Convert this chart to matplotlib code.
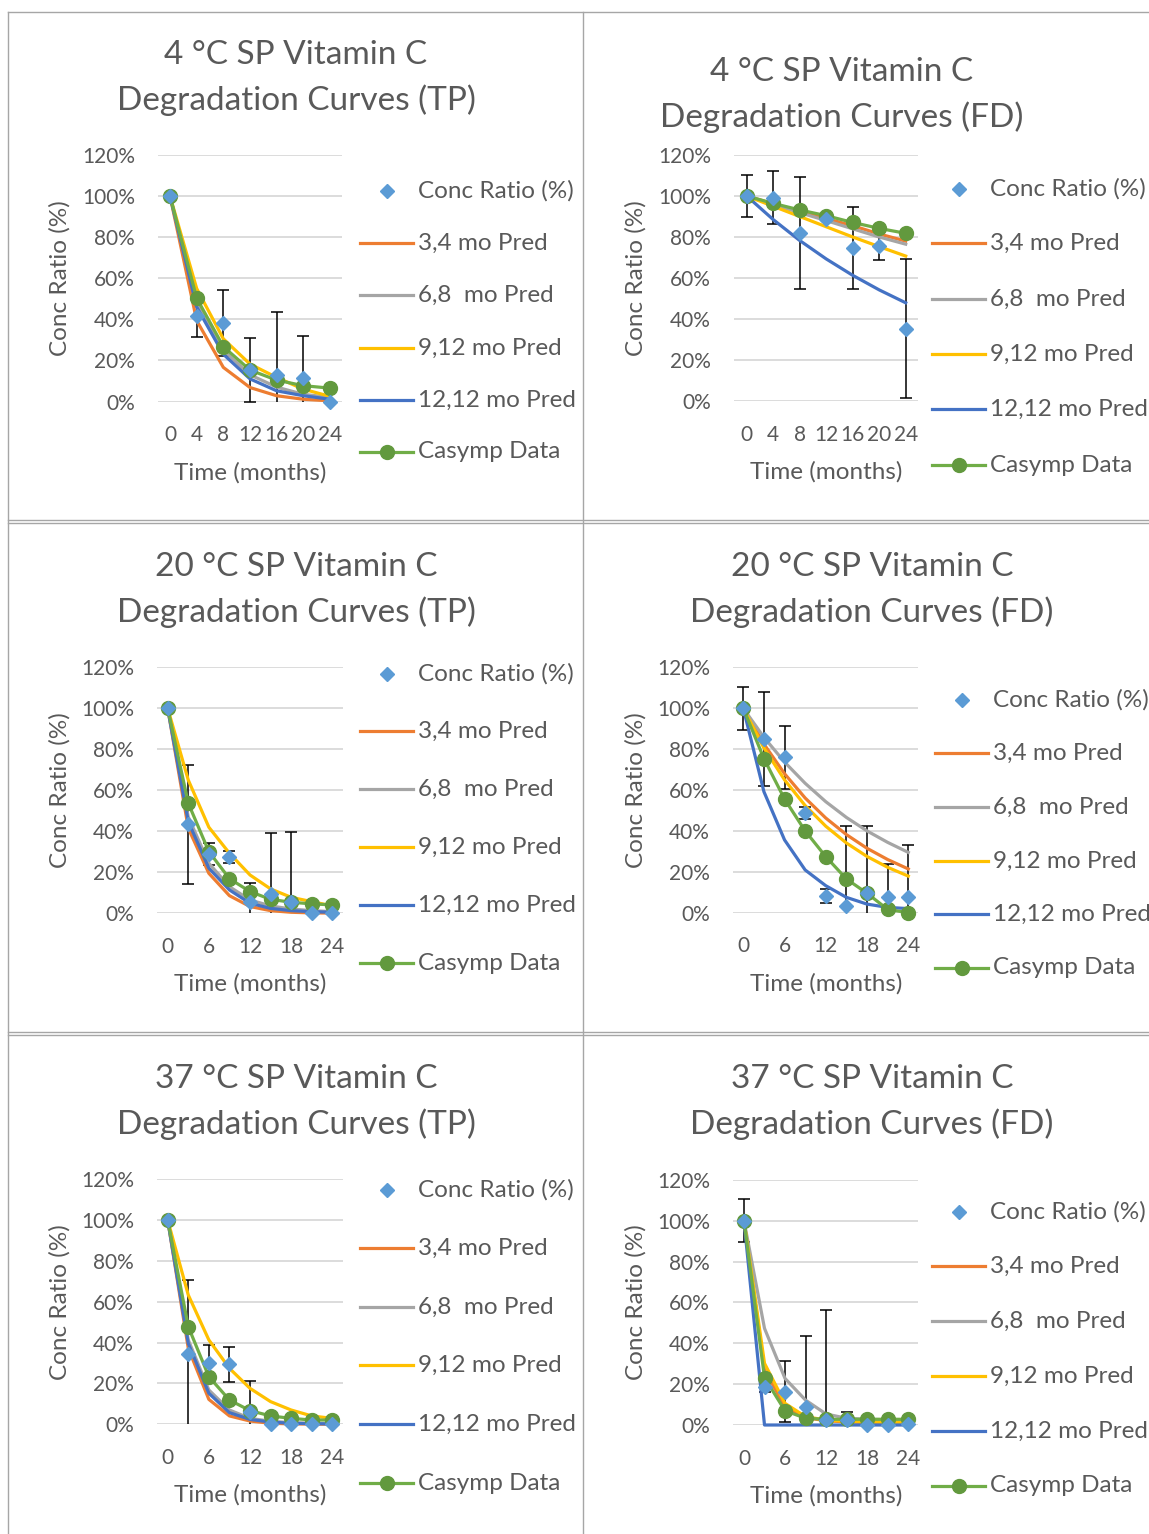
import matplotlib
matplotlib.use('Agg')
import matplotlib.pyplot as plt
from matplotlib.lines import Line2D
from matplotlib.ticker import FuncFormatter

plt.rcParams['font.family'] = ['Lato', 'DejaVu Sans']

W, H = 1149, 1534
TXT = '#595959'
C_CONC = '#5B9BD5'
C_34 = '#ED7D31'
C_68 = '#A5A5A5'
C_912 = '#FFC000'
C_1212 = '#4472C4'
C_CAS = '#70AD47'
C_CAS_M = '#62993E'

# ---------------- data ----------------
months_4 = [0, 4, 8, 12, 16, 20, 24]
months_3 = [0, 3, 6, 9, 12, 15, 18, 21, 24]
ticks_4 = [0, 4, 8, 12, 16, 20, 24]
ticks_6 = [0, 6, 12, 18, 24]

series_labels = ['Conc Ratio (%)', '3,4 mo Pred', '6,8  mo Pred', '9,12 mo Pred',
                 '12,12 mo Pred', 'Casymp Data']

# 4 °C TP
tp4_conc = [100, 41.5, 38.3, 15.3, 12.7, 11.2, 0]
tp4_err = [0, 10, 16, 15.5, 31, 20.6, 0]
tp4_p34 = [100, 39.4, 16.6, 6.8, 2.8, 1.1, 0.3]
tp4_p68 = [100, 48, 25, 13, 7, 3.5, 2]
tp4_p912 = [100, 55, 30.5, 18.2, 11.7, 6.0, 2.5]
tp4_p1212 = [100, 46, 23, 11, 5.2, 2.8, 1.1]
tp4_cas = [100, 50.3, 26.7, 15.3, 10.4, 7.7, 6.5]

# 4 °C FD
fd4_conc = [100, 99.2, 81.8, 88.8, 74.4, 75.6, 35.3]
fd4_err = [10.4, 13, 27.3, 0, 20, 6.6, 34]
fd4_p34 = [100, 96.2, 92.5, 89, 85.5, 81.5, 78]
fd4_p68 = [100, 95.8, 91.9, 88, 84, 80, 76.5]
fd4_p912 = [100, 95, 90, 85, 80, 75.3, 70.7]
fd4_p1212 = [100, 88.5, 78.3, 69.3, 61.3, 54.2, 47.9]
fd4_cas = [100, 96.4, 93.2, 90.4, 87.1, 84.2, 81.8]

# 20 °C TP
tp20_conc = [100, 43.4, 28.8, 27.3, 5.4, 9.4, 5.7, 0, 0]
tp20_err = [0, 29, 5.3, 3, 9.6, 30, 34, 0, 0]
tp20_p34 = [100, 41.5, 19.5, 8.6, 3.3, 1.3, 0.5, 0.2, 0.1]
tp20_p68 = [100, 47, 24.4, 13, 6.5, 3.6, 2.1, 1.3, 0.8]
tp20_p912 = [100, 65, 42, 29.3, 18.7, 11.9, 7.8, 5.7, 3.6]
tp20_p1212 = [100, 44.7, 22, 11.4, 4.9, 2.4, 1.3, 0.8, 0.5]
tp20_cas = [100, 53.7, 30.1, 16.9, 10.6, 6.8, 5.4, 4.6, 4.1]

# 20 °C FD
fd20_conc = [100, 85, 76, 48.6, 8.3, 3.4, 9.5, 7.8, 7.8]
fd20_err = [10.6, 23, 15.5, 3, 3.4, 39, 33, 16, 25.3]
fd20_p34 = [100, 82.5, 68, 56.1, 46.3, 38.2, 31.5, 26, 21.4]
fd20_p68 = [100, 85.8, 73.7, 63.3, 54.3, 46.6, 40, 34.4, 29.5]
fd20_p912 = [100, 80.6, 65, 52.4, 42.3, 34.1, 27.5, 22.2, 17.9]
fd20_p1212 = [100, 59.2, 35.6, 20.9, 13.2, 7.5, 4.2, 2.6, 2]
fd20_cas = [100, 75.4, 55.6, 40, 27.4, 16.5, 9.5, 1.6, 0]

# 37 °C TP
tp37_conc = [100, 34.3, 29.9, 29.4, 6.2, 0, 0, 0, 0]
tp37_err = [0, 36.3, 9, 8.5, 15.2, 0, 0, 0, 0]
tp37_p34 = [100, 37.2, 12.2, 4.1, 1.6, 0.5, 0.2, 0.1, 0]
tp37_p68 = [100, 41.3, 16.8, 7, 2.9, 1.5, 0.8, 0.5, 0.3]
tp37_p912 = [100, 63.3, 41.3, 27.4, 17.6, 11.1, 7, 4.1, 2.9]
tp37_p1212 = [100, 39.6, 15.2, 5.7, 2.4, 1.1, 0.5, 0.3, 0.2]
tp37_cas = [100, 47.8, 23.3, 11.9, 6.7, 4.1, 2.9, 2.1, 2.1]

# 37 °C FD
fd37_conc = [100, 18.8, 16.3, 8.6, 2.4, 2.4, 0, 0, 0.3]
fd37_err = [10.6, 2.6, 15, 35, 54, 3.8, 0, 0, 0]
fd37_p34 = [100, 27, 9, 3.6, 2.1, 1.5, 1.2, 1.0, 0.9]
fd37_p68 = [100, 47.3, 22.8, 12.2, 5.4, 3.3, 2.8, 2.6, 2.5]
fd37_p912 = [100, 30.2, 10.6, 4.1, 2.4, 1.8, 1.5, 1.3, 1.2]
fd37_p1212 = [100, 0, 0, 0, 0, 0, 0, 0, 0]
fd37_cas = [100, 23.2, 7, 3.3, 2.8, 2.8, 2.8, 2.8, 2.8]

# ---------------- figure ----------------
fig = plt.figure(figsize=(W / 100, H / 100), dpi=100)


def fx(px):
    return px / W


def fy(py):
    return 1 - py / H


FS_TICK = 15
FS_LAB = 17.5
FS_TITLE = 24
LW = 2.3


def panel(title, x, conc, err, p34, p68, p912, p1212, cas, xticks, geo):
    x0, x24, gl, gr, y0, y100, tcx, ty, ylx, leg_lx, leg_y = geo
    y120 = y0 - (y0 - y100) * 1.2
    ax = fig.add_axes([fx(gl), fy(y0), (gr - gl) / W, (y0 - y120) / H])
    mpp = 24 / (x24 - x0)
    ax.set_xlim((gl - x0) * mpp, (gr - x0) * mpp)
    ax.set_ylim(0, 120)
    for s in ax.spines.values():
        s.set_visible(False)
    ax.set_yticks([0, 20, 40, 60, 80, 100, 120])
    ax.yaxis.set_major_formatter(FuncFormatter(lambda v, p: f'{int(round(v))}%'))
    ax.set_xticks(xticks)
    ax.tick_params(axis='y', length=0, pad=16.5, labelsize=FS_TICK, labelcolor=TXT)
    ax.tick_params(axis='x', length=0, pad=17, labelsize=FS_TICK, labelcolor=TXT)
    ax.grid(axis='y', color='#D9D9D9', lw=1.3)
    ax.set_axisbelow(True)

    xe = [a for a, e in zip(x, err) if e > 0]
    ye = [b for b, e in zip(conc, err) if e > 0]
    ee = [e for e in err if e > 0]
    ax.errorbar(xe, ye, yerr=ee, fmt='none', ecolor='black', elinewidth=1.1,
                capsize=4, capthick=1.1, zorder=2)
    ax.plot(x, p34, color=C_34, lw=LW, zorder=3, clip_on=False)
    ax.plot(x, p68, color=C_68, lw=LW, zorder=3, clip_on=False)
    ax.plot(x, p912, color=C_912, lw=LW, zorder=3, clip_on=False)
    ax.plot(x, p1212, color=C_1212, lw=LW, zorder=3, clip_on=False)
    ax.plot(x, cas, color=C_CAS, lw=LW, marker='o', ms=10, mfc=C_CAS_M,
            mec=C_CAS_M, zorder=4, clip_on=False)
    ax.plot(x, conc, ls='none', marker='D', ms=7.2, mfc=C_CONC, mec=C_CONC,
            zorder=5, clip_on=False)

    # titles / axis labels
    fig.text(fx(tcx), fy(ty), title[0], ha='center', va='center',
             fontsize=FS_TITLE, color=TXT)
    fig.text(fx(tcx), fy(ty + 45), title[1], ha='center', va='center',
             fontsize=FS_TITLE, color=TXT)
    fig.text(fx(ylx), fy((y0 + y120) / 2), 'Conc Ratio (%)', rotation=90,
             ha='center', va='center', fontsize=FS_LAB, color=TXT)
    fig.text(fx((x0 + x24) / 2), fy(y0 + 71), 'Time (months)', ha='center',
             va='center', fontsize=FS_LAB, color=TXT)

    # legend
    for i, (lab, yy) in enumerate(zip(series_labels, leg_y)):
        lx = [fx(leg_lx), fx(leg_lx + 53)]
        ly = [fy(yy), fy(yy)]
        mx = [fx(leg_lx + 26.5)]
        my = [fy(yy)]
        if i == 0:
            fig.add_artist(Line2D(mx, my, transform=fig.transFigure, ls='none',
                                  marker='D', ms=7.2, mfc=C_CONC, mec=C_CONC))
        elif i == 5:
            fig.add_artist(Line2D(lx, ly, transform=fig.transFigure, color=C_CAS, lw=LW))
            fig.add_artist(Line2D(mx, my, transform=fig.transFigure, ls='none',
                                  marker='o', ms=10, mfc=C_CAS_M, mec=C_CAS_M))
        else:
            col = [C_34, C_68, C_912, C_1212][i - 1]
            fig.add_artist(Line2D(lx, ly, transform=fig.transFigure, color=col, lw=LW))
        fig.text(fx(leg_lx + 58), fy(yy), lab, ha='left', va='center',
                 fontsize=FS_LAB, color=TXT)
    return ax


panel(('4 °C SP Vitamin C', 'Degradation Curves (TP)'), months_4,
      tp4_conc, tp4_err, tp4_p34, tp4_p68, tp4_p912, tp4_p1212, tp4_cas, ticks_4,
      (170, 330, 158, 342, 401.5, 196, 296, 55, 60, 360,
       [191, 243, 295, 348, 400, 452]))
panel(('4 °C SP Vitamin C', 'Degradation Curves (FD)'), months_4,
      fd4_conc, fd4_err, fd4_p34, fd4_p68, fd4_p912, fd4_p1212, fd4_cas, ticks_4,
      (746.7, 905.7, 734, 918, 401, 196, 842, 72, 636, 932,
       [189, 243, 299, 354, 409, 465]))
panel(('20 °C SP Vitamin C', 'Degradation Curves (TP)'), months_3,
      tp20_conc, tp20_err, tp20_p34, tp20_p68, tp20_p912, tp20_p1212, tp20_cas, ticks_6,
      (167.7, 332.3, 157, 343, 913.3, 708.3, 296, 567, 60, 360,
       [674, 731, 789, 847, 905, 963]))
panel(('20 °C SP Vitamin C', 'Degradation Curves (FD)'), months_3,
      fd20_conc, fd20_err, fd20_p34, fd20_p68, fd20_p912, fd20_p1212, fd20_cas, ticks_6,
      (743.3, 908.3, 733, 918, 912.7, 708.3, 872, 567, 636, 935,
       [700, 753, 807, 861, 914, 968]))
panel(('37 °C SP Vitamin C', 'Degradation Curves (TP)'), months_3,
      tp37_conc, tp37_err, tp37_p34, tp37_p68, tp37_p912, tp37_p1212, tp37_cas, ticks_6,
      (167.7, 332.3, 157, 343, 1424.3, 1220, 296, 1079, 60, 360,
       [1190, 1248, 1307, 1365, 1424, 1483]))
panel(('37 °C SP Vitamin C', 'Degradation Curves (FD)'), months_3,
      fd37_conc, fd37_err, fd37_p34, fd37_p68, fd37_p912, fd37_p1212, fd37_cas, ticks_6,
      (744, 908, 733, 918, 1425, 1220.7, 872, 1079, 636, 932,
       [1212, 1266, 1321, 1376, 1431, 1486]))

# cell borders
BC = '#A6A6A6'
BLW = 1.0
for (xa, xb, ya, yb) in [(8, 1149, 12, 12), (8, 8, 12, 1534), (583, 583, 12, 1534),
                         (8, 1149, 520, 520), (8, 1149, 523, 523),
                         (8, 1149, 1032, 1032), (8, 1149, 1035, 1035)]:
    fig.add_artist(Line2D([fx(xa), fx(xb)], [fy(ya), fy(yb)], transform=fig.transFigure,
                          color=BC, lw=BLW))

fig.savefig('out.png', dpi=100)
